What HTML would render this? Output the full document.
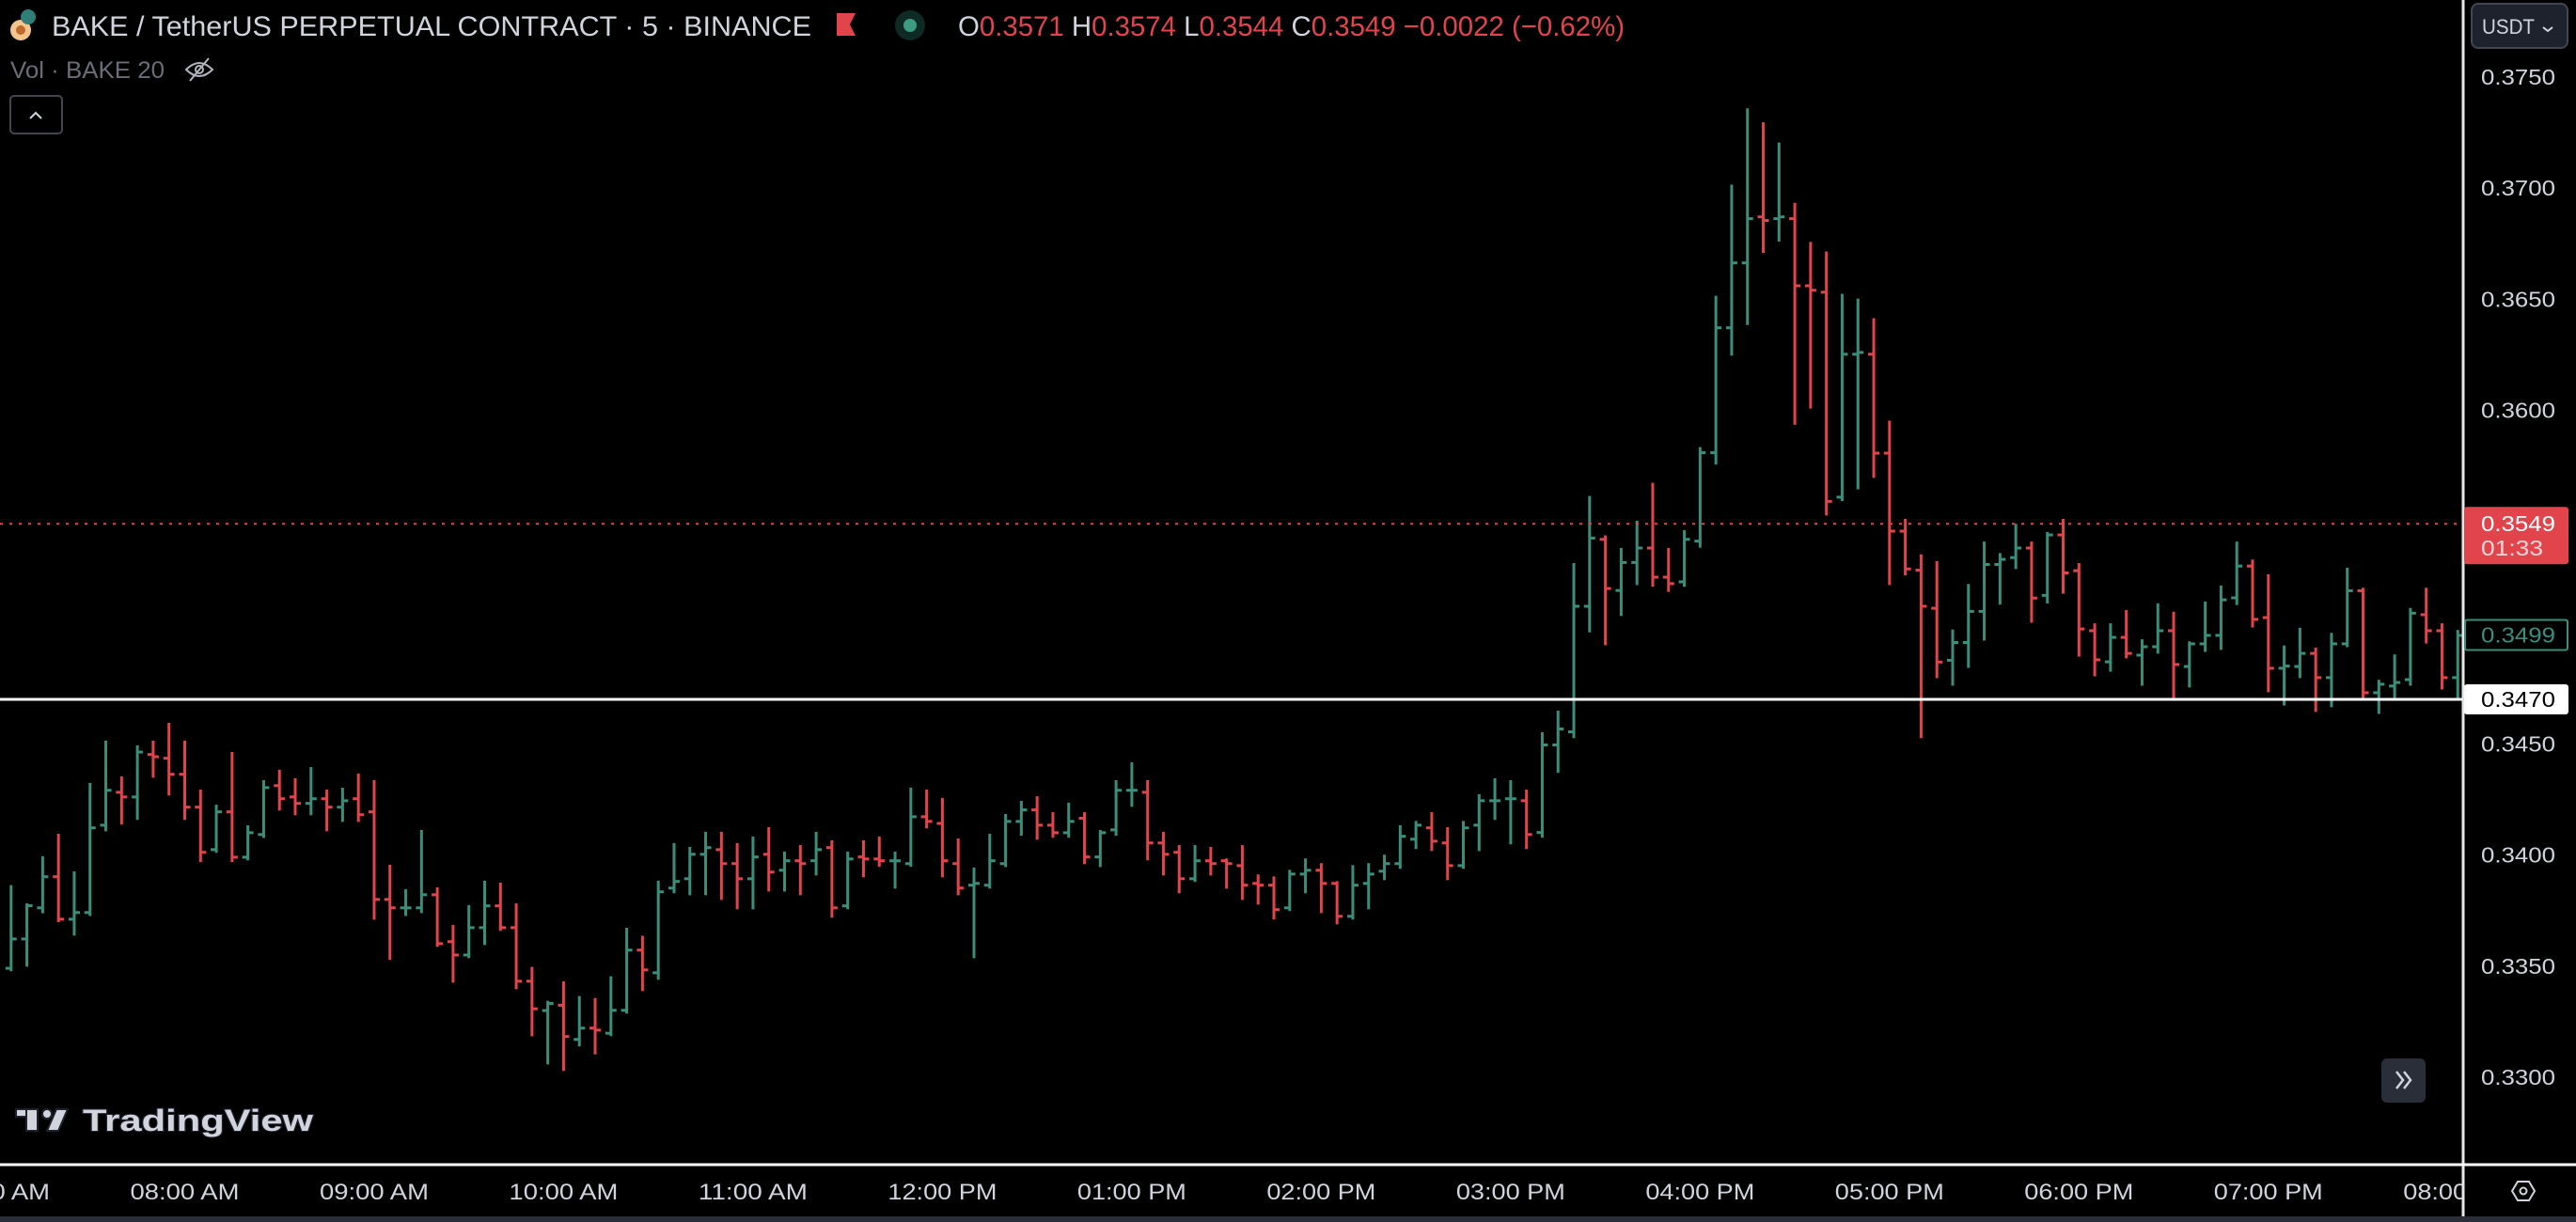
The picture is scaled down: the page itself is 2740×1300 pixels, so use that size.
<!DOCTYPE html>
<html>
<head>
<meta charset="utf-8">
<style>
  html,body{margin:0;padding:0;background:#000;}
  svg{display:block;}
  text{font-family:"Liberation Sans",sans-serif;}
</style>
</head>
<body>
<svg id="chart" width="2740" height="1300" viewBox="0 0 2740 1300" xmlns="http://www.w3.org/2000/svg">
  <rect x="0" y="0" width="2740" height="1300" fill="#000"/>
  <g id="bars"></g>
  <!-- current price dotted line -->
  <line id="curLine" x1="0" x2="2620" stroke="#e2444c" stroke-width="2" stroke-dasharray="3,7"/>
  <!-- horizontal white level line -->
  <line id="levelLine" x1="0" x2="2620" stroke="#ffffff" stroke-width="3"/>
  <!-- axes separators -->
  <line x1="2620" y1="0" x2="2620" y2="1294" stroke="#e8e8e8" stroke-width="3"/>
  <line x1="0" y1="1239" x2="2740" y2="1239" stroke="#ffffff" stroke-width="3"/>
  <rect x="0" y="1294" width="2740" height="6" fill="#2a2e39"/>
  <g id="priceAxis"></g>
  <svg x="0" y="1240" width="2619" height="54" overflow="hidden">
    <g id="timeAxis"></g>
  </svg>

  <!-- price labels -->
  <g>
    <rect id="curBox" x="2621" width="111" height="61" rx="3" fill="#e2444c"/>
    <text id="curText" x="2639" font-size="23" fill="#fff" textLength="79" lengthAdjust="spacingAndGlyphs">0.3549</text>
    <text id="cdText" x="2639" font-size="23" fill="#fbd7d9" textLength="66" lengthAdjust="spacingAndGlyphs">01:33</text>
  </g>
  <g>
    <rect id="grBox" x="2622" width="109" height="32" rx="2" fill="#000" stroke="#3b8e79" stroke-width="2"/>
    <text id="grText" x="2639" font-size="23" fill="#3b8e79" textLength="79" lengthAdjust="spacingAndGlyphs">0.3499</text>
  </g>
  <g>
    <rect id="lvBox" x="2621" width="111" height="32" rx="3" fill="#ffffff"/>
    <text id="lvText" x="2639" font-size="23" fill="#000" textLength="79" lengthAdjust="spacingAndGlyphs">0.3470</text>
  </g>

  <!-- USDT button -->
  <g>
    <rect x="2629" y="4" width="102" height="47" rx="7" fill="#1e222d" stroke="#434651" stroke-width="2"/>
    <text x="2640" y="36" font-size="22" fill="#d1d4dc" textLength="56" lengthAdjust="spacingAndGlyphs">USDT</text>
    <path d="M2705 29 l5 4 l5 -4" fill="none" stroke="#d1d4dc" stroke-width="2"/>
  </g>
  <!-- settings icon -->
  <g>
    <path d="M2672 1267 l6 -10 h12 l6 10 l-6 10 h-12 z" fill="none" stroke="#d1d4dc" stroke-width="2"/>
    <circle cx="2684" cy="1267" r="3.5" fill="none" stroke="#d1d4dc" stroke-width="2"/>
  </g>
  <!-- scroll to realtime button -->
  <g>
    <rect x="2533" y="1126" width="47" height="47" rx="6" fill="#2a2e39"/>
    <path d="M2549 1140 l7 9 l-7 9 M2557 1140 l7 9 l-7 9" fill="none" stroke="#d1d4dc" stroke-width="2.5"/>
  </g>

  <!-- header -->
  <g>
    <circle cx="22" cy="32" r="11" fill="#f3c58c"/>
    <circle cx="22" cy="32" r="5" fill="#c0692e"/>
    <circle cx="30" cy="18" r="8" fill="#2f7f78"/>
  </g>
  <text x="55" y="38" font-size="30" fill="#d1d4dc" textLength="808" lengthAdjust="spacingAndGlyphs">BAKE / TetherUS PERPETUAL CONTRACT · 5 · BINANCE</text>
  <path d="M890 14 h20 l-6 12 l6 12 h-20 z" fill="#e2444c"/>
  <g>
    <circle cx="968" cy="27" r="16" fill="#0f2a24"/>
    <circle cx="968" cy="27" r="7" fill="#3b9c82"/>
  </g>
  <text x="1019" y="38" font-size="30" fill="#e2444c" textLength="709" lengthAdjust="spacingAndGlyphs"><tspan fill="#d1d4dc">O</tspan>0.3571 <tspan fill="#d1d4dc">H</tspan>0.3574 <tspan fill="#d1d4dc">L</tspan>0.3544 <tspan fill="#d1d4dc">C</tspan>0.3549 −0.0022 (−0.62%)</text>
  <text x="11" y="83" font-size="25" fill="#6a6d78" textLength="164" lengthAdjust="spacingAndGlyphs">Vol · BAKE 20</text>
  <g fill="none" stroke="#b2b5be" stroke-width="2">
    <path d="M198 74 q14 -14 28 0 q-14 14 -28 0 z"/>
    <circle cx="212" cy="74" r="4"/>
    <line x1="202" y1="86" x2="222" y2="62"/>
  </g>
  <g>
    <rect x="11" y="102" width="55" height="40" rx="4" fill="#000" stroke="#434651" stroke-width="2"/>
    <path d="M32 126 l6 -6 l6 6" fill="none" stroke="#d1d4dc" stroke-width="2"/>
  </g>

  <!-- TradingView logo -->
  <g>
    <rect x="17" y="1180" width="23" height="8" fill="#d1d4dc" stroke="#1e222d" stroke-width="2"/>
    <rect x="28" y="1180" width="12" height="23" fill="#d1d4dc" stroke="#1e222d" stroke-width="2"/>
    <circle cx="50" cy="1185" r="5" fill="#d1d4dc" stroke="#1e222d" stroke-width="2"/>
    <path d="M60 1180 h12 l-10 23 h-12 z" fill="#d1d4dc" stroke="#1e222d" stroke-width="2"/>
    <text x="88" y="1203" font-size="32" font-weight="bold" fill="#d1d4dc" stroke="#1e222d" stroke-width="2" paint-order="stroke" textLength="245" lengthAdjust="spacingAndGlyphs">TradingView</text>
  </g>
</svg>
<script>
const opens=[0.33490,0.33622,0.33762,0.33902,0.33711,0.33741,0.34134,0.34282,0.34261,0.34452,0.34435,0.34363,0.34215,0.34024,0.34194,0.33990,0.34092,0.34312,0.34261,0.34232,0.34253,0.34215,0.34253,0.34194,0.33800,0.33762,0.33762,0.33821,0.33610,0.33550,0.33673,0.33771,0.33673,0.33432,0.33300,0.33324,0.33170,0.33221,0.33198,0.33301,0.33572,0.33470,0.33851,0.33893,0.34003,0.34024,0.33961,0.33893,0.34003,0.33931,0.33974,0.33974,0.34033,0.33771,0.33991,0.33982,0.33974,0.33961,0.34172,0.34142,0.33961,0.33864,0.33864,0.33961,0.34151,0.34203,0.34134,0.34100,0.34165,0.33991,0.34113,0.34291,0.34282,0.34054,0.34012,0.33893,0.33974,0.33974,0.33952,0.33872,0.33864,0.33762,0.33914,0.33931,0.33872,0.33724,0.33872,0.33927,0.33961,0.34071,0.34122,0.34054,0.33952,0.34134,0.34244,0.34253,0.34244,0.34101,0.34495,0.34554,0.35119,0.35420,0.35190,0.35316,0.35381,0.35250,0.35229,0.35412,0.35810,0.36372,0.36664,0.36871,0.36863,0.36863,0.36561,0.36532,0.35610,0.36253,0.36253,0.35808,0.35457,0.35281,0.35110,0.34876,0.34956,0.35096,0.35307,0.35338,0.35381,0.35168,0.35440,0.35279,0.35009,0.34869,0.34979,0.34899,0.34937,0.35009,0.34848,0.34950,0.34988,0.35157,0.35300,0.35068,0.34840,0.34848,0.34907,0.34798,0.34950,0.35189,0.34730,0.34760,0.34789,0.35081,0.35009,0.34798];
const highs=[0.33858,0.33776,0.33988,0.34089,0.33920,0.34318,0.34508,0.34347,0.34487,0.34508,0.34588,0.34508,0.34288,0.34220,0.34457,0.34127,0.34330,0.34377,0.34339,0.34389,0.34288,0.34296,0.34360,0.34330,0.33950,0.33840,0.34106,0.33848,0.33679,0.33768,0.33878,0.33869,0.33776,0.33490,0.33338,0.33425,0.33359,0.33350,0.33448,0.33666,0.33630,0.33878,0.34047,0.34030,0.34098,0.34098,0.34047,0.34077,0.34119,0.34009,0.34038,0.34098,0.34060,0.34009,0.34060,0.34077,0.34009,0.34297,0.34288,0.34250,0.34068,0.33937,0.34089,0.34178,0.34237,0.34258,0.34186,0.34229,0.34186,0.34106,0.34330,0.34411,0.34330,0.34098,0.34038,0.34038,0.34030,0.33978,0.34038,0.33906,0.33897,0.33927,0.33978,0.33957,0.33876,0.33948,0.33957,0.33995,0.34127,0.34147,0.34186,0.34119,0.34147,0.34267,0.34339,0.34330,0.34288,0.34546,0.34643,0.35307,0.35609,0.35432,0.35375,0.35498,0.35668,0.35375,0.35455,0.35829,0.36510,0.37010,0.37353,0.37290,0.37199,0.36928,0.36752,0.36709,0.36518,0.36497,0.36409,0.35948,0.35506,0.35346,0.35316,0.35008,0.35213,0.35404,0.35352,0.35484,0.35404,0.35447,0.35506,0.35307,0.35036,0.35036,0.35096,0.34964,0.35126,0.35088,0.34955,0.35134,0.35206,0.35404,0.35323,0.35257,0.34936,0.35016,0.34927,0.34993,0.35286,0.35196,0.34782,0.34896,0.35105,0.35196,0.35036,0.35006];
const lows=[0.33483,0.33504,0.33744,0.33704,0.33644,0.33732,0.34113,0.34143,0.34164,0.34354,0.34274,0.34164,0.33974,0.34016,0.33974,0.33982,0.34083,0.34206,0.34185,0.34185,0.34113,0.34155,0.34155,0.33715,0.33534,0.33732,0.33745,0.33593,0.33432,0.33542,0.33601,0.33665,0.33402,0.33191,0.33064,0.33035,0.33145,0.33109,0.33191,0.33293,0.33394,0.33445,0.33834,0.33825,0.33825,0.33804,0.33762,0.33762,0.33842,0.33842,0.33825,0.33914,0.33724,0.33762,0.33906,0.33953,0.33855,0.33953,0.34126,0.33906,0.33825,0.33542,0.33855,0.33952,0.34093,0.34075,0.34084,0.34084,0.33965,0.33952,0.34093,0.34223,0.33982,0.33914,0.33834,0.33885,0.33914,0.33855,0.33804,0.33783,0.33716,0.33754,0.33834,0.33745,0.33694,0.33716,0.33762,0.33893,0.33944,0.34033,0.34024,0.33893,0.33944,0.34024,0.34164,0.34054,0.34033,0.34084,0.34376,0.34532,0.35008,0.34950,0.35082,0.35221,0.35213,0.35190,0.35213,0.35389,0.35763,0.36253,0.36391,0.36715,0.36766,0.35942,0.36015,0.35534,0.35599,0.35651,0.35703,0.35221,0.35264,0.34532,0.34802,0.34768,0.34848,0.34971,0.35133,0.35293,0.35051,0.35138,0.35182,0.34899,0.34810,0.34831,0.34891,0.34768,0.34912,0.34709,0.34760,0.34920,0.34929,0.35131,0.35030,0.34738,0.34679,0.34802,0.34650,0.34671,0.34941,0.34700,0.34641,0.34700,0.34768,0.34958,0.34751,0.34709];
const closes=[0.33622,0.33772,0.33902,0.33711,0.33741,0.34122,0.34291,0.34261,0.34463,0.34442,0.34363,0.34215,0.34012,0.34194,0.33990,0.34100,0.34303,0.34253,0.34232,0.34253,0.34215,0.34244,0.34181,0.33800,0.33762,0.33762,0.33821,0.33601,0.33550,0.33673,0.33771,0.33673,0.33432,0.33308,0.33332,0.33183,0.33221,0.33212,0.33301,0.33572,0.33483,0.33834,0.33881,0.34003,0.34033,0.33961,0.33893,0.33991,0.33923,0.33974,0.33961,0.34024,0.33762,0.33982,0.33982,0.33974,0.33974,0.34172,0.34151,0.33974,0.33851,0.33872,0.33974,0.34151,0.34203,0.34134,0.34100,0.34151,0.33991,0.34100,0.34291,0.34291,0.34054,0.34003,0.33893,0.33974,0.33961,0.33961,0.33864,0.33864,0.33754,0.33914,0.33931,0.33872,0.33724,0.33864,0.33914,0.33961,0.34084,0.34134,0.34062,0.33952,0.34122,0.34244,0.34244,0.34253,0.34092,0.34495,0.34567,0.35119,0.35426,0.35199,0.35316,0.35381,0.35250,0.35221,0.35420,0.35810,0.36372,0.36664,0.36863,0.36855,0.36871,0.36561,0.36541,0.35591,0.36253,0.36261,0.35808,0.35457,0.35287,0.35119,0.34868,0.34956,0.35096,0.35307,0.35330,0.35381,0.35156,0.35440,0.35269,0.35017,0.34878,0.34979,0.34907,0.34937,0.35009,0.34857,0.34950,0.34988,0.35148,0.35300,0.35060,0.34840,0.34850,0.34907,0.34798,0.34950,0.35189,0.34730,0.34768,0.34776,0.35088,0.35009,0.34798,0.34988];
const priceTicks=[0.3750,0.3700,0.3650,0.3600,0.3450,0.3400,0.3350,0.3300];
const timeLabels=["07:00 AM","08:00 AM","09:00 AM","10:00 AM","11:00 AM","12:00 PM","01:00 PM","02:00 PM","03:00 PM","04:00 PM","05:00 PM","06:00 PM","07:00 PM","08:00 PM"];
const currentPrice=0.3549, levelPrice=0.3470, greenPrice=0.3499;

const NS="http://www.w3.org/2000/svg";
const X0=11.8, STEP=16.79, FIRST_HOUR_INDEX=-1;
function xScale(i){return X0+STEP*i;}
function yScale(p){return 82+(0.375-p)*23644;}
function mk(tag,attrs){const e=document.createElementNS(NS,tag);for(const k in attrs)e.setAttribute(k,attrs[k]);return e;}

const barsG=document.getElementById('bars');
for(let i=0;i<opens.length;i++){
  const up=closes[i]>=opens[i];
  const col=up?'#3b8e79':'#e2444c';
  const x=xScale(i);
  const g=mk('g',{stroke:col,'stroke-width':3});
  
  
  g.appendChild(mk('line',{x1:x,x2:x,y1:yScale(highs[i])-1.5,y2:yScale(lows[i])+1.5}));
  g.appendChild(mk('line',{x1:x-6,x2:x,y1:yScale(opens[i]),y2:yScale(opens[i])}));
  g.appendChild(mk('line',{x1:x,x2:x+6,y1:yScale(closes[i]),y2:yScale(closes[i])}));
  barsG.appendChild(g);
}

const cy=yScale(currentPrice), ly=yScale(levelPrice), gy=yScale(greenPrice);
const cl=document.getElementById('curLine'); cl.setAttribute('y1',cy); cl.setAttribute('y2',cy);
const ll=document.getElementById('levelLine'); ll.setAttribute('y1',ly); ll.setAttribute('y2',ly);
document.getElementById('curBox').setAttribute('y',cy-18);
document.getElementById('curText').setAttribute('y',cy+8);
document.getElementById('cdText').setAttribute('y',cy+34);
document.getElementById('grBox').setAttribute('y',gy-16);
document.getElementById('grText').setAttribute('y',gy+8);
document.getElementById('lvBox').setAttribute('y',ly-16);
document.getElementById('lvText').setAttribute('y',ly+8);

const pa=document.getElementById('priceAxis');
priceTicks.forEach(p=>{
  const t=mk('text',{x:2639,y:yScale(p)+8,'font-size':23,fill:'#d1d4dc',textLength:79,lengthAdjust:'spacingAndGlyphs'});
  
  
  t.textContent=p.toFixed(4);
  pa.appendChild(t);
});
const ta=document.getElementById('timeAxis');
timeLabels.forEach((s,k)=>{
  const x=xScale(FIRST_HOUR_INDEX+12*k);
  const t=mk('text',{x:x-58,y:36,'font-size':24,fill:'#d1d4dc',textLength:116,lengthAdjust:'spacingAndGlyphs'});
  
  
  t.textContent=s;
  ta.appendChild(t);
});
</script>
</body>
</html>
